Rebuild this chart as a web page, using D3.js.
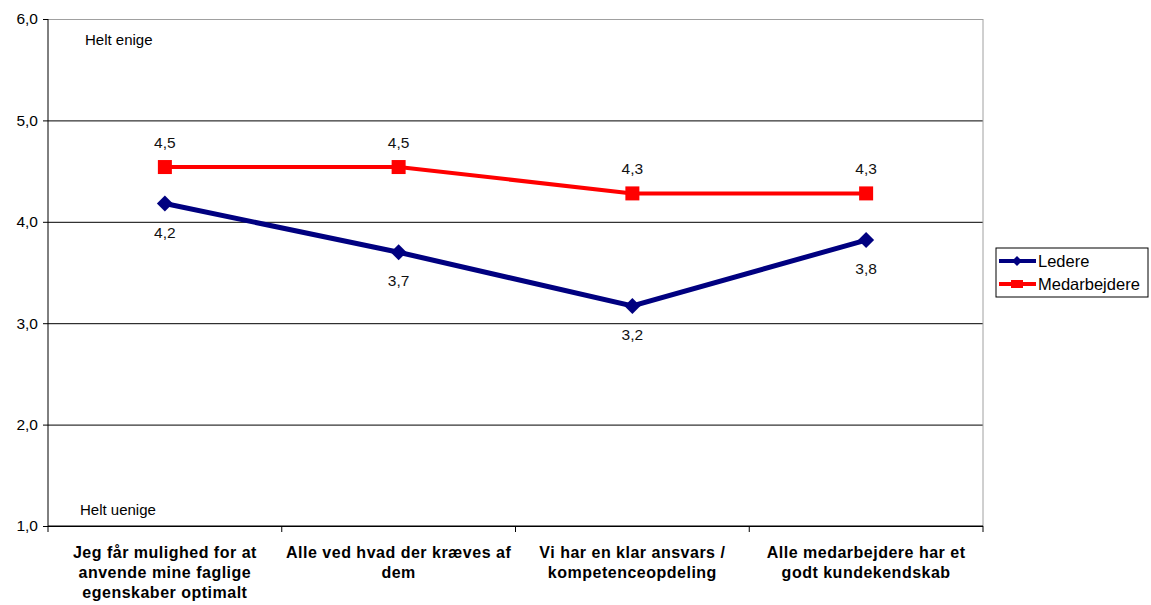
<!DOCTYPE html>
<html>
<head>
<meta charset="utf-8">
<script src="https://cdn.jsdelivr.net/npm/d3@7"></script>
<style>
  body { margin: 0; background: #fff; }
  text { font-family: "Liberation Sans", Arial, sans-serif; }
</style>
</head>
<body>
<div id="chart"></div>
<script>
// data
var categories = [
    "Jeg får mulighed for at\nanvende mine faglige\negenskaber optimalt",
    "Alle ved hvad der kræves af\ndem",
    "Vi har en klar ansvars /\nkompetenceopdeling",
    "Alle medarbejdere har et\ngodt kundekendskab"
];
var ledere = [4.18, 3.70, 3.17, 3.82];
var medarbejdere = [4.54, 4.54, 4.28, 4.28];
var yTicks = [1, 2, 3, 4, 5, 6];
var seriesNames = ["Ledere", "Medarbejdere"];

var svg = d3.select("#chart").append("svg").attr("width", 1151).attr("height", 605),
    margin = {top: 19, right: 168, bottom: 79, left: 48},
    width = +svg.attr("width") - margin.left - margin.right,
    height = +svg.attr("height") - margin.top - margin.bottom;

var x = d3.scaleBand().domain(categories).range([0, width]);
var y = d3.scaleLinear().domain([1, 6]).range([height, 0]);
var fmt = function(d) { return d3.format(".1f")(d).replace(".", ","); };

var g = svg.append("g")
    .attr("transform", "translate(" + margin.left + "," + margin.top + ")");

// gridlines
g.append("g")
    .attr("class", "grid")
    .call(d3.axisLeft(y).tickValues(yTicks).tickSize(-width).tickFormat(""))
    .call(function(s) {
        s.select(".domain").remove();
        s.selectAll("line").attr("stroke", function(d) { return d === 6 ? "#a0a0a0" : "#000"; });
    });

// right border
g.append("line")
    .attr("x1", width).attr("x2", width).attr("y1", 0).attr("y2", height)
    .attr("stroke", "#a0a0a0");

// y axis
g.append("g")
    .call(d3.axisLeft(y).tickValues(yTicks).tickSize(5).tickPadding(5).tickFormat(fmt))
    .call(function(s) {
        s.select(".domain").attr("stroke", "#000").attr("d", "M0," + height + "V0");
        s.selectAll("text").style("font-size", "15.5px").attr("fill", "#000")
            .style("font-family", "Liberation Sans, Arial, sans-serif");
    });

// x axis
var xAxis = g.append("g").attr("transform", "translate(0," + height + ")");
xAxis.append("line").attr("x1", 0).attr("x2", width).attr("stroke", "#000");
xAxis.selectAll(".tick")
    .data(categories)
    .enter().append("line")
    .attr("x1", function(d) { return x(d) + x.bandwidth(); })
    .attr("x2", function(d) { return x(d) + x.bandwidth(); })
    .attr("y1", 0).attr("y2", 6)
    .attr("stroke", "#000");
xAxis.append("line").attr("x1", 0).attr("x2", 0).attr("y1", 0).attr("y2", 6).attr("stroke", "#000");

xAxis.selectAll(".cat")
    .data(categories)
    .enter().append("text")
    .attr("class", "cat")
    .attr("text-anchor", "middle")
    .attr("x", function(d) { return x(d) + x.bandwidth() / 2; })
    .attr("y", 32)
    .style("font-size", "16px")
    .style("font-weight", "bold")
    .style("letter-spacing", "0.5px")
    .each(function(d) {
        var t = d3.select(this);
        d.split("\n").forEach(function(line, i) {
            t.append("tspan")
                .attr("x", x(d) + x.bandwidth() / 2)
                .attr("dy", i === 0 ? 0 : 20)
                .text(line);
        });
    });

// Helt enige / uenige
g.append("text").attr("x", 37).attr("y", 26).style("font-size", "15px").text("Helt enige");
g.append("text").attr("x", 32).attr("y", 496).style("font-size", "15px").text("Helt uenige");

var cx = function(i) { return x(categories[i]) + x.bandwidth() / 2; };
var line = d3.line()
    .x(function(d, i) { return cx(i); })
    .y(function(d) { return y(d); });

// Medarbejdere
g.append("path")
    .datum(medarbejdere)
    .attr("fill", "none")
    .attr("stroke", "#ff0000")
    .attr("stroke-width", 4)
    .attr("d", line);
g.selectAll(".sq")
    .data(medarbejdere)
    .enter().append("rect")
    .attr("class", "sq")
    .attr("x", function(d, i) { return cx(i) - 7; })
    .attr("y", function(d) { return y(d) - 7; })
    .attr("width", 14).attr("height", 14)
    .attr("fill", "#ff0000");
g.selectAll(".lblm")
    .data(medarbejdere)
    .enter().append("text")
    .attr("class", "lblm")
    .attr("text-anchor", "middle")
    .attr("x", function(d, i) { return cx(i); })
    .attr("y", function(d) { return y(d) - 19; })
    .style("font-size", "15.5px")
    .attr("fill", "#111")
    .text(fmt);

// Ledere
g.append("path")
    .datum(ledere)
    .attr("fill", "none")
    .attr("stroke", "#000080")
    .attr("stroke-width", 5)
    .attr("d", line);
var diamond = "M0,-8L8,0L0,8L-8,0Z";
g.selectAll(".dm")
    .data(ledere)
    .enter().append("path")
    .attr("class", "dm")
    .attr("d", diamond)
    .attr("transform", function(d, i) { return "translate(" + cx(i) + "," + y(d) + ")"; })
    .attr("fill", "#000080");
g.selectAll(".lbll")
    .data(ledere)
    .enter().append("text")
    .attr("class", "lbll")
    .attr("text-anchor", "middle")
    .attr("x", function(d, i) { return cx(i); })
    .attr("y", function(d) { return y(d) + 34; })
    .style("font-size", "15.5px")
    .attr("fill", "#111")
    .text(fmt);

// legend
var colors = ["#000080", "#ff0000"];
var legend = svg.append("g").attr("transform", "translate(996,248)");
legend.append("rect")
    .attr("width", 152).attr("height", 49)
    .attr("fill", "#fff").attr("stroke", "#000");
var items = legend.selectAll(".item")
    .data(seriesNames)
    .enter().append("g")
    .attr("transform", function(d, i) { return "translate(0," + (13 + i * 23) + ")"; });
items.append("line")
    .attr("x1", 3).attr("x2", 40)
    .attr("stroke", function(d, i) { return colors[i]; })
    .attr("stroke-width", 4);
items.append("path")
    .attr("d", function(d, i) { return i === 0 ? "M0,-5L5,0L0,5L-5,0Z" : "M-6,-4H6V4H-6Z"; })
    .attr("transform", "translate(21,0)")
    .attr("fill", function(d, i) { return colors[i]; });
items.append("text")
    .attr("x", 42).attr("y", 6)
    .style("font-size", "16.5px")
    .text(function(d) { return d; });
</script>
</body>
</html>
